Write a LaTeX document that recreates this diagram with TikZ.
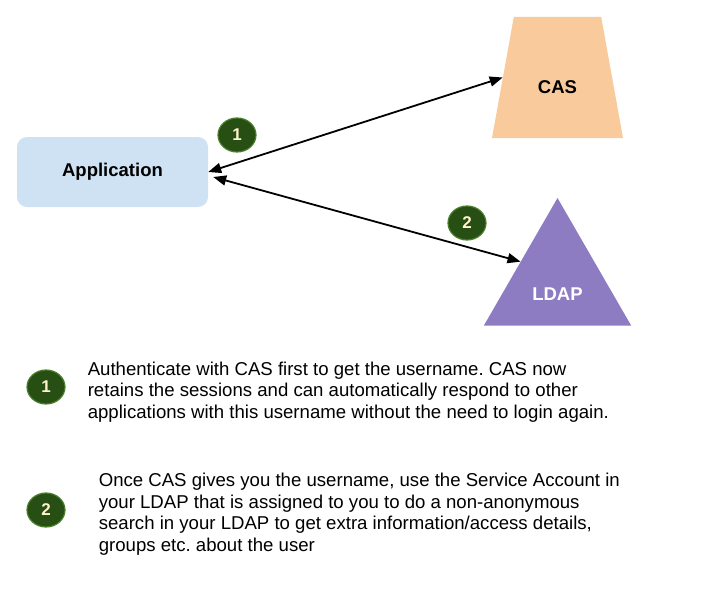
\documentclass[tikz,border=0pt]{standalone}
\usepackage{fontspec}
\setmainfont{Liberation Sans}
\usepackage{tikz}
\usetikzlibrary{arrows.meta}
\usetikzlibrary{positioning}
\usetikzlibrary{shapes.geometric}

\definecolor{appblue}{HTML}{CFE2F3}
\definecolor{casorange}{HTML}{F9CB9C}
\definecolor{ldappurple}{HTML}{8E7CC3}
\definecolor{badgegreen}{HTML}{274E13}
\definecolor{badgeedge}{HTML}{4A7F2C}
\definecolor{badgetext}{HTML}{FFF2CC}

\frenchspacing

\begin{document}
\begin{tikzpicture}[x=1pt,y=-1pt,
		badge/.style={ellipse,fill=badgegreen,draw=badgeedge,line width=1.2pt,minimum width=38pt,minimum height=34pt,inner sep=0pt,text=badgetext,font=\bfseries\fontsize{17}{17}\selectfont},
		link/.style={{Triangle[length=13pt,width=10pt]}-{Triangle[length=13pt,width=10pt]},line width=1.8pt},
		title/.style={font=\bfseries\fontsize{18.5}{18.5}\selectfont},
		note/.style={anchor=west,align=left,inner sep=0pt,font=\fontsize{18.6}{21.5}\selectfont}]
		\useasboundingbox (0,0) rectangle (719,594);

		\node [rectangle,rounded corners=10pt,fill=appblue,minimum width=191pt,minimum height=70pt,title] (app) at (112.5,172) {Application};
		\node [trapezium,trapezium angle=76,trapezium stretches=true,minimum width=131pt,minimum height=121pt,inner sep=2pt,fill=casorange] (cas) at (557.5,77.5) {};
		\node [regular polygon,regular polygon sides=3,minimum size=170pt,inner sep=2pt,fill=ldappurple] (ldap) at (557.5,283) {};

		\node [title] (caslabel) at ([yshift=-10pt]cas.center) {CAS};
		\node [title,text=white] (ldaplabel) at ([yshift=-11pt]ldap.center) {LDAP};

		\draw [link] (app.east) -- (cas.left side);
		\draw [link] ([xshift=5pt,yshift=-5pt]app.east) -- (ldap.side 1);

		\node [badge] (n1) at (237,135) {1};
		\node [badge] (n2) at (467,223) {2};

		\node [badge] (k1) at (46,387) {1};
		\node [badge] (k2) at (46,510) {2};

		\node [note,right=22pt of k1,yshift=-5pt] (t1) {Authenticate with CAS first to get the username. CAS now\\retains the sessions and can automatically respond to other\\applications with this username without the need to login again.};
		\node [note,right=33pt of k2,yshift=-4pt] (t2) {Once CAS gives you the username, use the Service Account in\\your LDAP that is assigned to you to do a non-anonymous\\search in your LDAP to get extra information/access details,\\groups etc. about the user};
	\end{tikzpicture}
\end{document}
